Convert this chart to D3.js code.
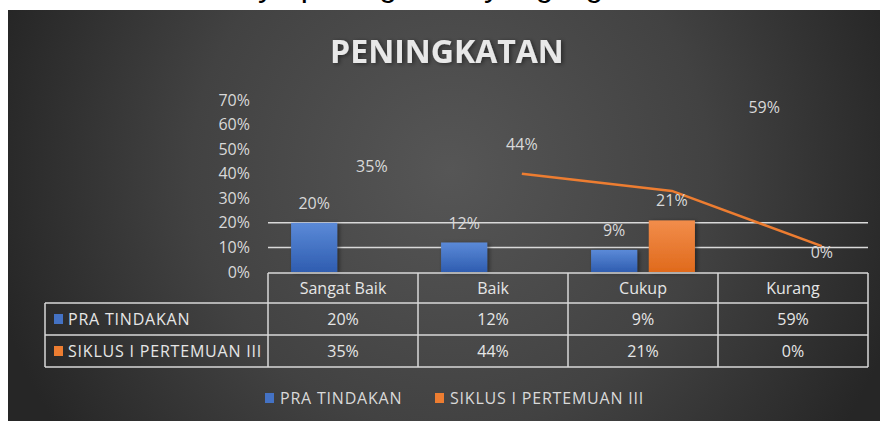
<!DOCTYPE html>
<html lang="id">
<head>
<meta charset="UTF-8">
<title>Peningkatan</title>
<script src="https://d3js.org/d3.v7.min.js"></script>
<style>
  body { margin: 0; background: #fff; }
  svg { display: block; }
  text { font-family: "Open Sans", sans-serif; }
</style>
</head>
<body>
<script>
// data
const categories = ["Sangat Baik", "Baik", "Cukup", "Kurang"];
const seriesNames = ["PRA TINDAKAN", "SIKLUS I PERTEMUAN III"];
const praTindakan = [20, 12, 9, 59];
const siklus = [35, 44, 21, 0];
// only some bars are actually drawn in the picture
const praBars = [20, 12, 9, null];
const siklusBars = [null, null, 21, null];
// orange line as it appears (Baik, Cukup, Kurang)
const siklusLine = [null, 40, 33, 10.5];
const yTicks = [0, 10, 20, 30, 40, 50, 60, 70];
const gridTicks = [10, 20];

const W = 880, H = 421;
const colors = ["#4472c4", "#ed7d31"];
const numSize = "16px";

const svg = d3.select("body").append("svg")
    .attr("width", W)
    .attr("height", H);

const defs = svg.append("defs");

const bg = defs.append("radialGradient")
    .attr("id", "bg")
    .attr("gradientUnits", "userSpaceOnUse")
    .attr("cx", 450).attr("cy", 170).attr("r", 470);
bg.append("stop").attr("offset", "0%").attr("stop-color", "#565656");
bg.append("stop").attr("offset", "55%").attr("stop-color", "#424242");
bg.append("stop").attr("offset", "100%").attr("stop-color", "#262626");

[["gBlue", "#5b8ad8", "#2f5db0"], ["gOrange", "#f28d4b", "#e06a1c"]].forEach(([id, top, bot]) => {
  const g = defs.append("linearGradient").attr("id", id)
      .attr("x1", 0).attr("y1", 0).attr("x2", 0).attr("y2", 1);
  g.append("stop").attr("offset", "0%").attr("stop-color", top);
  g.append("stop").attr("offset", "100%").attr("stop-color", bot);
});

const shadow = defs.append("filter").attr("id", "shadow")
    .attr("x", "-20%").attr("y", "-20%").attr("width", "150%").attr("height", "150%");
shadow.append("feDropShadow").attr("dx", 2).attr("dy", 1).attr("stdDeviation", 2)
    .attr("flood-color", "#000").attr("flood-opacity", 0.45);

// line of document text cut off at the top of the picture
const docText = svg.append("text")
    .attr("x", 0).attr("y", -4)
    .style("font-family", "'Liberation Sans', sans-serif")
    .style("font-size", "32px")
    .attr("fill", "#000")
    .text("hasilnya peningkatan yang signifikan");
const yIdx = docText.text().indexOf("nya") + 1;
const yPos = docText.node().getStartPositionOfChar(yIdx).x;
docText.attr("x", 258 - yPos);

// chart panel
svg.append("rect")
    .attr("x", 8).attr("y", 10)
    .attr("width", W - 8).attr("height", H - 10)
    .attr("fill", "url(#bg)");

svg.append("text")
    .attr("x", 447).attr("y", 63)
    .attr("text-anchor", "middle")
    .style("font-size", "32px")
    .style("font-weight", "bold")
    .attr("fill", "#e8e8e8")
    .attr("filter", "url(#shadow)")
    .text("PENINGKATAN");

// scales
const x = d3.scaleBand().domain(categories).range([268, 868]).padding(0);
const xs = d3.scaleBand().domain([0, 1]).range([0, x.bandwidth()])
    .paddingInner(0.2).paddingOuter(0.4);
const y = d3.scaleLinear().domain([0, 70]).range([272, 100]);

// y axis labels
const yAxis = svg.append("g")
    .attr("transform", "translate(258,0)")
    .call(d3.axisLeft(y).tickValues(yTicks).tickFormat(d => d + "%").tickSize(0).tickPadding(8));
yAxis.select(".domain").remove();
yAxis.selectAll("text")
    .style("font-size", numSize)
    .style("font-family", "'Open Sans', sans-serif")
    .attr("fill", "#d9d9d9");

// gridlines
svg.append("g").selectAll("line")
    .data(gridTicks)
    .join("line")
    .attr("x1", x.range()[0]).attr("x2", x.range()[1])
    .attr("y1", d => y(d)).attr("y2", d => y(d))
    .attr("stroke", "#d9d9d9")
    .attr("stroke-width", 1.5);

// bars
[praBars, siklusBars].forEach((vals, s) => {
  svg.append("g").selectAll("rect")
      .data(vals.map((v, i) => ({cat: categories[i], v})).filter(d => d.v != null))
      .join("rect")
      .attr("x", d => x(d.cat) + xs(s))
      .attr("width", xs.bandwidth())
      .attr("y", d => y(d.v))
      .attr("height", d => y(0) - y(d.v))
      .attr("fill", s === 0 ? "url(#gBlue)" : "url(#gOrange)")
      .attr("filter", "url(#shadow)");
});

// orange line
const linePts = siklusLine.map((v, i) => ({cat: categories[i], v})).filter(d => d.v != null);
svg.append("path")
    .datum(linePts)
    .attr("fill", "none")
    .attr("stroke", colors[1])
    .attr("stroke-width", 2.5)
    .attr("stroke-linejoin", "round")
    .attr("d", d3.line()
        .x(d => x(d.cat) + xs(1) + xs.bandwidth() / 2)
        .y(d => y(d.v)));

// data labels
[praTindakan, siklus].forEach((vals, s) => {
  svg.append("g").selectAll("text")
      .data(vals.map((v, i) => ({cat: categories[i], v})))
      .join("text")
      .attr("x", d => x(d.cat) + xs(s) + xs.bandwidth() / 2)
      .attr("y", d => y(d.v) - 14)
      .attr("text-anchor", "middle")
      .style("font-size", numSize)
      .attr("fill", "#d9d9d9")
      .text(d => d.v + "%");
});

// data table
const rowY = [273, 303, 335, 367];
const legendLeft = 45;
const tbl = svg.append("g")
    .attr("stroke", "#d9d9d9")
    .attr("stroke-width", 1.5);
tbl.append("line").attr("x1", x.range()[0]).attr("x2", x.range()[1]).attr("y1", rowY[0]).attr("y2", rowY[0]);
rowY.slice(1).forEach(r => {
  tbl.append("line").attr("x1", legendLeft).attr("x2", x.range()[1]).attr("y1", r).attr("y2", r);
});
tbl.append("line").attr("x1", legendLeft).attr("x2", legendLeft).attr("y1", rowY[1]).attr("y2", rowY[3]);
categories.forEach(c => {
  tbl.append("line").attr("x1", x(c)).attr("x2", x(c)).attr("y1", rowY[0]).attr("y2", rowY[3]);
});
tbl.append("line").attr("x1", x.range()[1]).attr("x2", x.range()[1]).attr("y1", rowY[0]).attr("y2", rowY[3]);

svg.append("g").selectAll("text")
    .data(categories)
    .join("text")
    .attr("x", d => x(d) + x.bandwidth() / 2)
    .attr("y", (rowY[0] + rowY[1]) / 2 + 6)
    .attr("text-anchor", "middle")
    .style("font-size", "16px")
    .attr("fill", "#e6e6e6")
    .text(d => d);

[praTindakan, siklus].forEach((vals, s) => {
  const cy = (rowY[s + 1] + rowY[s + 2]) / 2;
  svg.append("rect")
      .attr("x", 54).attr("y", cy - 5)
      .attr("width", 9).attr("height", 10)
      .attr("fill", colors[s]);
  svg.append("text")
      .attr("x", 68).attr("y", cy + 6)
      .style("font-size", "16px")
      .style("letter-spacing", "0.8px")
      .attr("fill", "#e6e6e6")
      .text(seriesNames[s]);
  svg.append("g").selectAll("text")
      .data(vals)
      .join("text")
      .attr("x", (d, i) => x(categories[i]) + x.bandwidth() / 2)
      .attr("y", cy + 6)
      .attr("text-anchor", "middle")
      .style("font-size", numSize)
      .attr("fill", "#e6e6e6")
      .text(d => d + "%");
});

// legend
const legendX = [265, 435];
seriesNames.forEach((name, s) => {
  const g = svg.append("g").attr("transform", `translate(${legendX[s]},398)`);
  g.append("rect").attr("x", 0).attr("y", -5).attr("width", 9).attr("height", 10).attr("fill", colors[s]);
  g.append("text").attr("x", 15).attr("y", 6)
      .style("font-size", "16px")
      .style("letter-spacing", "0.8px")
      .attr("fill", "#d9d9d9")
      .text(name);
});
</script>
</body>
</html>
